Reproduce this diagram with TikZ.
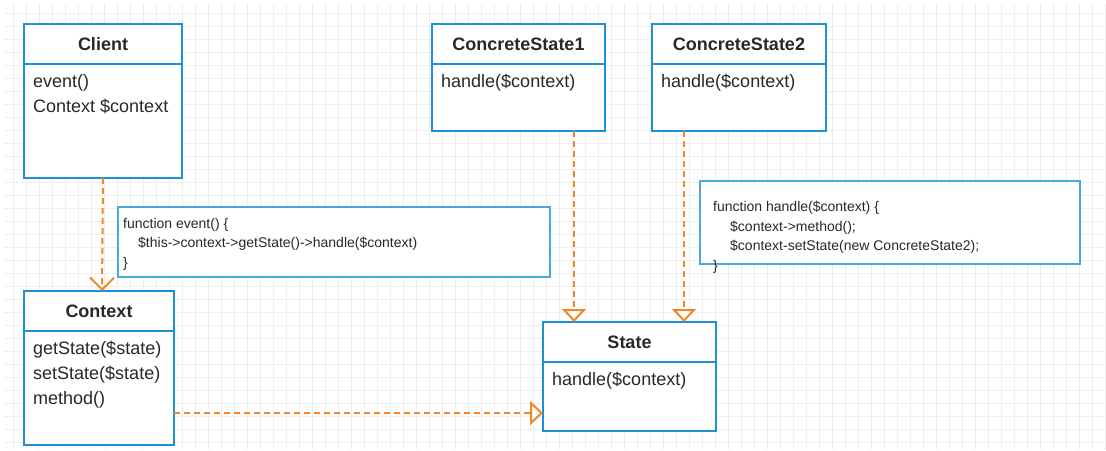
\documentclass[tikz,border=0pt]{standalone}
\usepackage{fontspec}
\setmainfont{Liberation Sans}
\usetikzlibrary{arrows.meta,positioning}
\definecolor{umlblue}{RGB}{30,144,212}
\definecolor{noteblue}{RGB}{75,168,222}
\definecolor{deporange}{RGB}{240,136,40}
\definecolor{ink}{RGB}{40,40,40}
\definecolor{gridgray}{RGB}{238,238,238}
\begin{document}
\begin{tikzpicture}[x=1pt, y=-1pt, every node/.style={text=ink},
			hd/.style={draw=umlblue, line width=2.5pt, fill=white, outer sep=0pt, inner sep=0pt, anchor=north west, minimum height=40pt, font=\bfseries\fontsize{18}{22}\selectfont},
			bd/.style={draw=umlblue, line width=2.5pt, fill=white, outer sep=0pt, inner sep=0pt, below=0pt of #1},
			mb/.style={anchor=north west, inner xsep=9pt, inner ysep=10pt, align=left, font=\fontsize{18}{25}\selectfont},
			nt/.style={draw=noteblue, line width=1.5pt, fill=white, anchor=north west},
			nx/.style={anchor=north west, inner sep=0pt, align=left, font=\fontsize{14}{19.5}\selectfont},
			dep/.style={draw=deporange, line width=2pt, dash pattern=on 6pt off 4pt},
			real/.style={dep, -{Triangle[open, width=24pt, length=13pt, fill=white]}},
			use/.style={dep, -{Straight Barb[width=24pt, length=12pt]}}]
			\useasboundingbox (0,0) rectangle (1106,450);
			\fill[white] (0,0) rectangle (1106,450);
			\draw[gridgray, line width=0.8pt] (4,4) grid[step=13pt] (1106,450);
			% classes
			\node[hd, minimum width=158] (client) at (24,24) {Client};
			\node[bd=client, minimum width=158, minimum height=114] (clientb) {};
			\node[mb] at (clientb.north west) {event()\\Context \$context};
			\node[hd, minimum width=173] (cs1) at (432,24) {ConcreteState1};
			\node[bd=cs1, minimum width=173, minimum height=67] (cs1b) {};
			\node[mb] at (cs1b.north west) {handle(\$context)};
			\node[hd, minimum width=174] (cs2) at (652,24) {ConcreteState2};
			\node[bd=cs2, minimum width=174, minimum height=67] (cs2b) {};
			\node[mb] at (cs2b.north west) {handle(\$context)};
			\node[hd, minimum width=150] (context) at (24,291) {Context};
			\node[bd=context, minimum width=150, minimum height=114] (contextb) {};
			\node[mb] at (contextb.north west) {getState(\$state)\\setState(\$state)\\method()};
			\node[hd, minimum width=173] (state) at (543,322) {State};
			\node[bd=state, minimum width=173, minimum height=69] (stateb) {};
			\node[mb] at (stateb.north west) {handle(\$context)};
			% notes
			\node[nt, minimum width=432, minimum height=70] (n1) at (117,206) {};
			\node[nx] (n1t) at ([shift={(6pt,-12pt)}]n1.north west) {function event() \{\\\hspace*{15pt}\$this->context->getState()->handle(\$context)\\\}};
			\node[nt, minimum width=380, minimum height=83] (n2) at (699,180) {};
			\node[nx] (n2t) at ([shift={(14pt,-21pt)}]n2.north west) {function handle(\$context) \{\\\hspace*{17pt}\$context->method();\\\hspace*{17pt}\$context-setState(new ConcreteState2);\\\}};
			% connectors
			\coordinate (s1) at ([xshift=31pt]state.north west);
			\coordinate (s2) at ([xshift=141pt]state.north west);
			\coordinate (s3) at ([yshift=18pt]stateb.south west);
			\draw[use] (clientb.south) -- ([xshift=-1pt]clientb.south |- context.north);
			\draw[real] (cs1b.south -| s1) -- (s1);
			\draw[real] (cs2b.south -| s2) -- (s2);
			\draw[real] (contextb.east |- s3) -- (s3);
		\end{tikzpicture}
\end{document}
